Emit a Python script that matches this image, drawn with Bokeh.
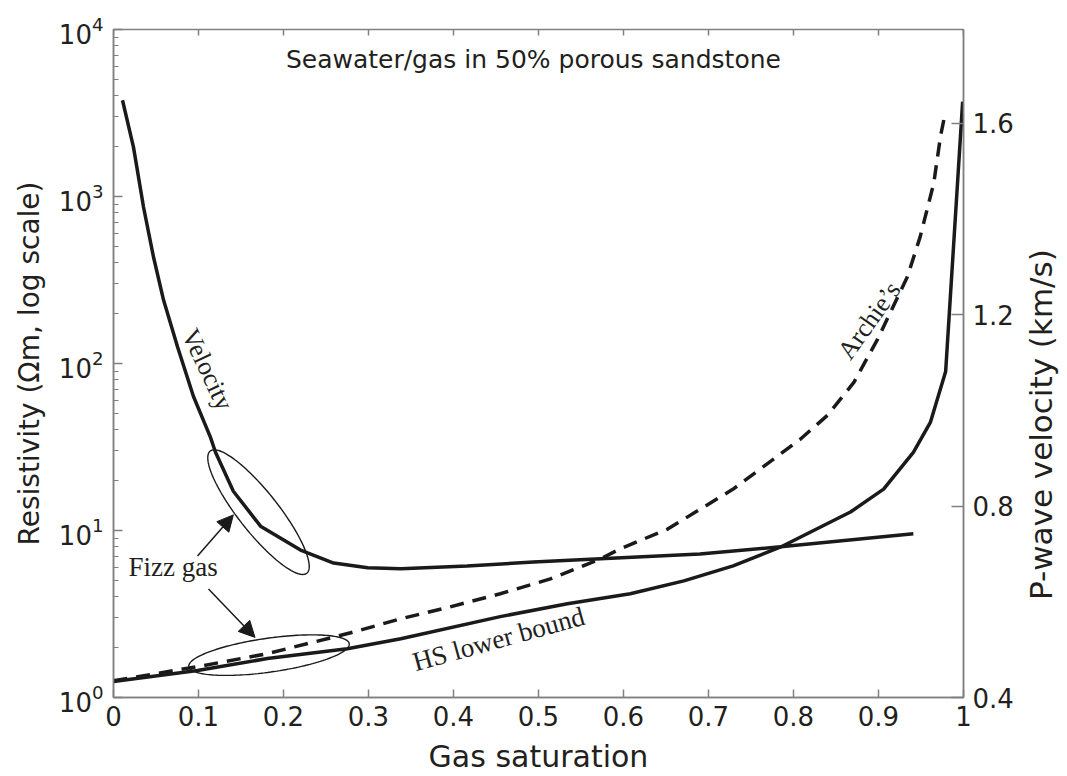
import numpy as np
from bokeh.plotting import figure
from bokeh.layouts import row
from bokeh.models import (Range1d, LinearAxis, LinearScale, FixedTicker, Label, Arrow, NormalHead)
from bokeh.embed import file_html
from bokeh.resources import INLINE

# ---------------- data ----------------
# P-wave velocity (km/s) vs gas saturation (right axis)
vel_s = [0.0106, 0.0235, 0.0353, 0.047, 0.0588, 0.0753, 0.0941, 0.114, 0.12, 0.141,
         0.173, 0.22, 0.259, 0.299, 0.338, 0.416, 0.494, 0.573, 0.69, 0.785, 0.941]
vel_v = [1.648, 1.550, 1.425, 1.321, 1.231, 1.133, 1.029, 0.944, 0.9125, 0.831,
         0.758, 0.708, 0.681, 0.671, 0.669, 0.675, 0.683, 0.690, 0.700, 0.715, 0.742]

# Hashin-Shtrikman lower bound resistivity (Ohm m)
hs_s = [0.0, 0.0988, 0.181, 0.275, 0.338, 0.455, 0.534, 0.608, 0.671, 0.729, 0.785,
        0.867, 0.906, 0.941, 0.961, 0.979, 0.999]
hs_r = [1.246, 1.45, 1.71, 1.96, 2.25, 3.05, 3.64, 4.18, 4.99, 6.14, 7.97,
        12.9, 17.7, 29.4, 44.4, 89.6, 3700]

# Archie's law resistivity (Ohm m)
arch_s = [0.0, 0.0988, 0.181, 0.279, 0.338, 0.396, 0.455, 0.514, 0.573, 0.596, 0.652,
          0.729, 0.808, 0.84, 0.871, 0.899, 0.934, 0.949, 0.965, 0.973, 0.978]
arch_r = [1.26, 1.53, 1.83, 2.44, 2.96, 3.49, 4.18, 5.13, 6.76, 7.76, 10.2,
          17.7, 35.2, 49, 77, 140, 331, 573, 1200, 2300, 3070]

x_ticks = [0, 0.1, 0.2, 0.3, 0.4, 0.5, 0.6, 0.7, 0.8, 0.9, 1]
x_tick_labels = ["0", "0.1", "0.2", "0.3", "0.4", "0.5", "0.6", "0.7", "0.8", "0.9", "1"]
vel_ticks = [0.4, 0.8, 1.2, 1.6]
res_ticks = [1, 10, 100, 1000, 10000]

# ---------------- layout ----------------
W, H = 1067, 776
SIDE_W = 47                     # strip on the right holding the velocity axis title
FW, FH = 850, 670
DECADE_PX = FH / 4.0
VEL_PX = 480.0
GRAY = "#808080"
INK = "#231f20"
LINE = "#1a1a1a"
SANS = "DejaVu Sans"
SERIF = "Liberation Serif"

p = figure(width=W - SIDE_W, height=H, output_backend="svg", toolbar_location=None,
           x_range=Range1d(0, 1), y_range=Range1d(1, 1e4), y_axis_type="log",
           min_border_left=113, min_border_right=W - SIDE_W - 113 - FW,
           min_border_top=29, min_border_bottom=H - 29 - FH,
           background_fill_color="white", border_fill_color="white")
p.extra_y_ranges = {"vel": Range1d(0.4, 0.4 + FH / VEL_PX)}
p.extra_y_scales = {"vel": LinearScale()}
p.xgrid.visible = False
p.ygrid.visible = False
p.outline_line_color = GRAY
p.outline_line_width = 1.5


def style_axis(ax, tin):
    ax.axis_line_color = GRAY
    ax.axis_line_width = 1.5
    ax.major_tick_line_color = GRAY
    ax.major_tick_line_width = 1.5
    ax.minor_tick_line_color = GRAY
    ax.minor_tick_line_width = 1.2
    ax.major_tick_in = tin
    ax.major_tick_out = 0
    ax.minor_tick_in = 5
    ax.minor_tick_out = 0
    ax.major_label_text_font = SANS
    ax.major_label_text_font_size = "26px"
    ax.major_label_text_color = INK
    ax.axis_label_text_font = SANS
    ax.axis_label_text_font_style = "normal"
    ax.axis_label_text_color = INK


# left (log resistivity)
yax = p.yaxis[0]
yax.ticker = FixedTicker(ticks=res_ticks,
                         minor_ticks=[m * t for t in res_ticks[:-1] for m in range(2, 10)])
style_axis(yax, 9)
yax.major_label_standoff = 10
yax.axis_label = "Resistivity (\u03a9m, log scale)"
yax.axis_label_text_font_size = "28px"
yax.axis_label_standoff = 10

# bottom
xax = p.xaxis[0]
xax.ticker = FixedTicker(ticks=x_ticks)
xax.major_label_overrides = {t: l for t, l in zip(x_ticks, x_tick_labels)}
style_axis(xax, 8)
xax.major_label_standoff = 8
xax.axis_label = "Gas saturation"
xax.axis_label_text_font_size = "30px"
xax.axis_label_standoff = 10

# right (velocity)
rax = LinearAxis(y_range_name="vel", ticker=FixedTicker(ticks=vel_ticks))
style_axis(rax, 12)
rax.major_label_standoff = 9
p.add_layout(rax, "right")

# top ticks (no labels), placed with the figure's own scales
p.segment(x0=x_ticks, x1=x_ticks, y0=[1e4] * len(x_ticks),
          y1=[10 ** (4 - 6 / DECADE_PX)] * len(x_ticks), line_color=GRAY, line_width=1.5)

# ---------------- curves ----------------
p.line(hs_s, hs_r, line_width=3.5, line_color=LINE)
p.line(arch_s, arch_r, line_width=3.5, line_color=LINE, line_dash="14 9")
p.line(vel_s, vel_v, y_range_name="vel", line_width=3.5, line_color=LINE)


# ---------------- fizz-gas ellipses ----------------
def ellipse(s0, logr0, a_px, b_px, ang_deg, n=160):
    t = np.linspace(0, 2 * np.pi, n)
    th = np.radians(ang_deg)
    dx = a_px * np.cos(t) * np.cos(th) - b_px * np.sin(t) * np.sin(th)
    dy = a_px * np.cos(t) * np.sin(th) + b_px * np.sin(t) * np.cos(th)
    return s0 + dx / FW, 10 ** (logr0 + dy / DECADE_PX)


ex, ey = ellipse(0.1706, 1.110, 78, 20, -51.8)
p.line(ex, ey, line_width=1.4, line_color=LINE)
ex, ey = ellipse(0.183, 0.2537, 81, 17, 8.1)
p.line(ex, ey, line_width=1.4, line_color=LINE)

# arrows
for xs, ys, xe, ye in [(0.0988, 7.04, 0.141, 12.4), (0.1118, 4.47, 0.1665, 2.29)]:
    p.add_layout(Arrow(end=NormalHead(size=16, fill_color=LINE, line_color=LINE),
                       x_start=xs, y_start=ys, x_end=xe, y_end=ye,
                       line_width=1.5, line_color=LINE))


# ---------------- texts ----------------
def lab(fig, text, x, y, font, size, angle=0.0, align="center", rng="default"):
    fig.add_layout(Label(x=x, y=y, text=text, text_font=font, text_font_size=size,
                         text_color=INK, angle=angle, text_align=align,
                         text_baseline="middle", y_range_name=rng))


lab(p, "Seawater/gas in 50% porous sandstone", 0.494, 10 ** 3.821, SANS, "25px")
lab(p, "Fizz gas", 0.0176, 10 ** 0.782, SERIF, "27px", align="left")
lab(p, "Velocity", 0.1106, 10 ** 1.964, SERIF, "26px", angle=-1.13)
lab(p, "HS lower bound", 0.453, 10 ** 0.35, SERIF, "27px", angle=0.27)
lab(p, "Archie\u2019s", 0.889, 10 ** 2.257, SERIF, "26px", angle=0.95)

# right-hand strip: velocity axis title reading bottom-to-top
side = figure(width=SIDE_W, height=H, output_backend="svg", toolbar_location=None,
              x_range=Range1d(0, 1), y_range=Range1d(0, 1),
              min_border_left=0, min_border_right=0, min_border_top=0, min_border_bottom=0,
              background_fill_color="white", border_fill_color="white")
side.axis.visible = False
side.xgrid.visible = False
side.ygrid.visible = False
side.outline_line_color = None
lab(side, "P-wave velocity (km/s)", (1040 - (W - SIDE_W)) / SIDE_W, 1 - 459 / H, SANS, "31px",
    angle=np.pi / 2)

layout = row(p, side)
open("out.html", "w").write(file_html(layout, INLINE))
